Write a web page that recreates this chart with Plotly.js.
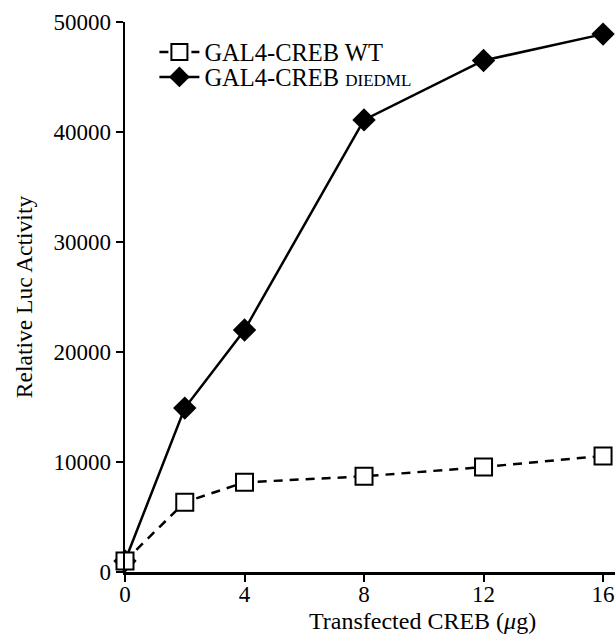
<!DOCTYPE html>
<html>
<head>
<meta charset="utf-8">
<script src="https://cdn.plot.ly/plotly-3.0.1.min.js"></script>
<style>html,body{margin:0;padding:0;background:#fff;}#chart{width:615px;height:639px;}</style>
</head>
<body>
<div id="chart"></div>
<script>
const doseUg = [0, 2, 4, 8, 12, 16];
const wtActivity = [1000, 6350, 8150, 8700, 9550, 10550];
const diedmlActivity = [1000, 14900, 22000, 41100, 46500, 48900];
const xTicks = [0, 4, 8, 12, 16];
const yTicks = [0, 10000, 20000, 30000, 40000, 50000];
const seriesNames = ['GAL4-CREB WT', 'GAL4-CREB <span style="font-size:17px">DIEDML</span>'];

const font = 'Liberation Serif, Times New Roman, serif';

const traces = [
  {
    x: doseUg, y: diedmlActivity, name: seriesNames[1], legend: 'legend2',
    mode: 'lines+markers', cliponaxis: false,
    line: {color: '#000', width: 2.5},
    marker: {symbol: 'diamond', size: 18, color: '#000', line: {color: '#000', width: 0}}
  },
  {
    x: doseUg, y: wtActivity, name: seriesNames[0], legend: 'legend',
    mode: 'lines+markers', cliponaxis: false,
    line: {color: '#000', width: 2.5, dash: '9px,7px'},
    marker: {symbol: 'square', size: 17, color: '#fff', line: {color: '#000', width: 2}}
  }
];

const legendStyle = {
  xanchor: 'left', yanchor: 'middle',
  font: {family: font, size: 24.5, color: '#000'},
  bgcolor: 'rgba(0,0,0,0)', tracegroupgap: 0, itemwidth: 40
};

const layout = {
  width: 615, height: 639,
  margin: {l: 125, r: 0, t: 22, b: 67},
  paper_bgcolor: '#fff', plot_bgcolor: '#fff',
  font: {family: font, color: '#000', size: 23},
  showlegend: true,
  legend: Object.assign({x: 0.06, y: (572 - 52) / 550}, legendStyle),
  legend2: Object.assign({x: 0.06, y: (572 - 77) / 550}, legendStyle),
  xaxis: {
    range: [0, 16.4], tickvals: xTicks, ticktext: xTicks.map(String),
    showgrid: false, zeroline: false, showline: true, linecolor: '#000', linewidth: 2.5,
    ticks: 'outside', ticklen: 7, tickwidth: 2, tickcolor: '#000',
    ticklabeloverflow: 'allow', ticklabelstandoff: -7,
    tickfont: {family: font, size: 23, color: '#000'}
  },
  yaxis: {
    range: [0, 50000], tickvals: yTicks, ticktext: yTicks.map(String),
    showgrid: false, zeroline: false, showline: true, linecolor: '#000', linewidth: 2.5,
    ticks: 'outside', ticklen: 7, tickwidth: 2, tickcolor: '#000',
    ticklabeloverflow: 'allow',
    tickfont: {family: font, size: 23, color: '#000'},
    title: {text: 'Relative Luc Activity', font: {family: font, size: 23.5, color: '#000'}, standoff: 14}
  },
  annotations: [{
    text: 'Transfected CREB (<i>μ</i>g)', xref: 'paper', yref: 'paper',
    x: (422 - 125) / 490, y: (572 - 621) / 550, xanchor: 'center', yanchor: 'middle',
    showarrow: false, font: {family: font, size: 24, color: '#000'}
  }]
};

Plotly.newPlot('chart', traces, layout, {staticPlot: true, displayModeBar: false});
</script>
</body>
</html>
